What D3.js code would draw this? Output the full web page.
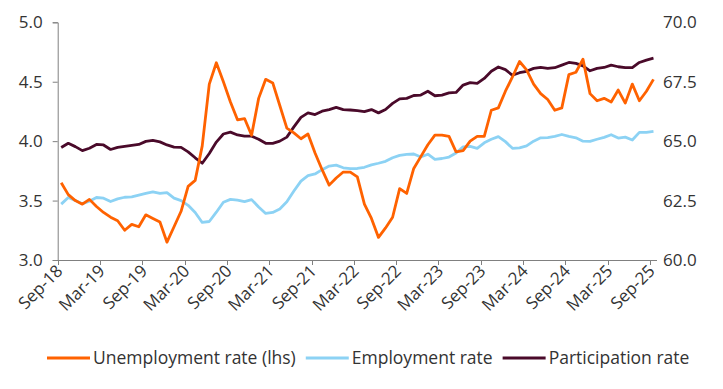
<!DOCTYPE html>
<html>
<head>
<meta charset="utf-8">
<script src="https://cdn.jsdelivr.net/npm/d3@7"></script>
<style>
  body { margin: 0; background: #fff; }
  svg { display: block; font-family: "Open Sans", "DejaVu Sans", sans-serif; }
</style>
</head>
<body>
<script>
let w = 723;
let h = 389;
let plotLeft = 57.7;
let plotRight = 657;
let plotTop = 22.3;
let plotBottom = 260;

// monthly, Sep-18 .. Sep-25
const months = d3.timeMonth.range(new Date(2018, 8, 1), new Date(2025, 9, 1));
const fmt = d3.timeFormat("%b-%y");

const unemployment = [
  3.65, 3.55, 3.50, 3.47, 3.51, 3.45, 3.40, 3.36, 3.33, 3.25, 3.30, 3.28, 3.38, 3.35, 3.32, 3.15, 3.28,
  3.41, 3.62, 3.67, 3.96, 4.48, 4.66, 4.50, 4.33, 4.18, 4.19, 4.05, 4.36, 4.52, 4.49, 4.30, 4.11, 4.07,
  4.02, 4.06, 3.90, 3.76, 3.63, 3.69, 3.74, 3.74, 3.70, 3.47, 3.35, 3.19, 3.27, 3.36, 3.60, 3.56, 3.77,
  3.87, 3.97, 4.05, 4.05, 4.04, 3.91, 3.92, 4.00, 4.04, 4.04, 4.26, 4.28, 4.42, 4.54, 4.67, 4.60, 4.48,
  4.40, 4.35, 4.26, 4.28, 4.56, 4.58, 4.69, 4.40, 4.34, 4.36, 4.33, 4.43, 4.32, 4.48, 4.34, 4.42, 4.52
];
const employment = [
  62.35, 62.63, 62.50, 62.37, 62.47, 62.63, 62.60, 62.46, 62.57, 62.64, 62.66, 62.73, 62.80, 62.87, 62.80, 62.83, 62.60,
  62.50, 62.30, 62.00, 61.58, 61.62, 62.01, 62.43, 62.55, 62.52, 62.46, 62.54, 62.23, 61.96, 62.00, 62.15, 62.45, 62.90,
  63.32, 63.55, 63.62, 63.80, 63.95, 63.99, 63.88, 63.84, 63.85, 63.90, 64.00, 64.07, 64.15, 64.30, 64.40, 64.44, 64.46,
  64.33, 64.45, 64.23, 64.27, 64.33, 64.50, 64.76, 64.78, 64.70, 64.93, 65.08, 65.19, 64.98, 64.70, 64.72, 64.80, 65.00,
  65.14, 65.15, 65.20, 65.28, 65.20, 65.14, 65.00, 64.99, 65.08, 65.16, 65.27, 65.13, 65.17, 65.05, 65.37, 65.37, 65.41
];
const participation = [
  64.73, 64.91, 64.77, 64.60, 64.70, 64.86, 64.84, 64.65, 64.74, 64.78, 64.82, 64.86, 64.99, 65.03, 64.97, 64.84, 64.75,
  64.74, 64.55, 64.30, 64.07, 64.48, 64.96, 65.30, 65.38, 65.26, 65.21, 65.21, 65.08, 64.91, 64.91, 65.00, 65.17, 65.60,
  66.00, 66.19, 66.12, 66.26, 66.33, 66.42, 66.33, 66.31, 66.28, 66.24, 66.33, 66.19, 66.33, 66.59, 66.78, 66.80, 66.92,
  66.94, 67.10, 66.91, 66.94, 67.03, 67.05, 67.36, 67.46, 67.43, 67.64, 67.94, 68.12, 68.01, 67.77, 67.88, 67.94, 68.06,
  68.10, 68.06, 68.09, 68.20, 68.31, 68.27, 68.17, 67.96, 68.06, 68.10, 68.20, 68.13, 68.09, 68.09, 68.31, 68.41, 68.49
];

const tickLabels = ["Sep-18", "Mar-19", "Sep-19", "Mar-20", "Sep-20", "Mar-21", "Sep-21", "Mar-22",
  "Sep-22", "Mar-23", "Sep-23", "Mar-24", "Sep-24", "Mar-25", "Sep-25"];
const leftTicks = [3.0, 3.5, 4.0, 4.5, 5.0];
const rightTicks = [60.0, 62.5, 65.0, 67.5, 70.0];

const seriesNames = ["Unemployment rate (lhs)", "Employment rate", "Participation rate"];
const colors = ["#ff6200", "#8cd2f4", "#4a0a2a"];

const axisColor = "#808080";
const textColor = "#333";
const tickFont = "17px";
const legendFont = "17.5px";

let svg = d3.select("body").append("svg").attr("width", w).attr("height", h);

let xScale = d3.scaleBand()
  .domain(months.map(fmt))
  .range([plotLeft, plotRight])
  .paddingInner(0)
  .paddingOuter(0);
let bw = xScale.bandwidth();

let yLeft = d3.scaleLinear().domain([3, 5]).range([plotBottom, plotTop]);
let yRight = d3.scaleLinear().domain([60, 70]).range([plotBottom, plotTop]);

// left axis
const yAxisL = d3.axisLeft(yLeft).tickValues(leftTicks).tickFormat(d3.format(".1f")).tickSize(5).tickPadding(10);
let gl = svg.append("g")
  .attr("transform", "translate(" + plotLeft + ",0)")
  .call(yAxisL);
gl.select(".domain").attr("stroke", axisColor);
gl.selectAll(".tick line").attr("stroke", axisColor);
gl.selectAll(".tick text").attr("fill", textColor).style("font-size", tickFont)
  .style("font-family", "'Open Sans', sans-serif");

// right axis: labels only
const yAxisR = d3.axisRight(yRight).tickValues(rightTicks).tickFormat(d3.format(".1f")).tickSize(0).tickPadding(6);
let gr = svg.append("g")
  .attr("transform", "translate(" + plotRight + ",0)")
  .call(yAxisR);
gr.select(".domain").remove();
gr.selectAll(".tick text").attr("fill", textColor).style("font-size", tickFont)
  .style("font-family", "'Open Sans', sans-serif");

// bottom axis
let gx = svg.append("g").attr("transform", "translate(0," + plotBottom + ")");
gx.append("line")
  .attr("x1", plotLeft).attr("x2", plotRight)
  .attr("y1", 0.5).attr("y2", 0.5)
  .attr("stroke", axisColor);
gx.selectAll("line.tick")
  .data(tickLabels)
  .enter()
  .append("line")
  .attr("class", "tick")
  .attr("x1", (d) => Math.round(xScale(d)) + 0.5)
  .attr("x2", (d) => Math.round(xScale(d)) + 0.5)
  .attr("y1", 0)
  .attr("y2", 5)
  .attr("stroke", axisColor);
gx.selectAll("text.tick")
  .data(tickLabels)
  .enter()
  .append("text")
  .attr("class", "tick")
  .attr("text-anchor", "end")
  .attr("font-size", tickFont)
  .attr("fill", textColor)
  .attr("transform", (d) => "translate(" + (xScale(d) + 6) + ",12) rotate(-45)")
  .text((d) => d);

// lines
const series = [
  { name: seriesNames[0], values: unemployment, y: yLeft, color: colors[0] },
  { name: seriesNames[1], values: employment, y: yRight, color: colors[1] },
  { name: seriesNames[2], values: participation, y: yRight, color: colors[2] }
];
const drawOrder = [1, 2, 0];

drawOrder.forEach((k) => {
  const s = series[k];
  const line = d3.line()
    .x((d, i) => xScale(fmt(months[i])) + bw / 2)
    .y((d) => s.y(d));
  svg.append("path")
    .datum(s.values)
    .attr("fill", "none")
    .attr("stroke", s.color)
    .attr("stroke-width", 2.8)
    .attr("stroke-linejoin", "round")
    .attr("d", line);
});

// legend
let lg = svg.append("g").attr("transform", "translate(47,358)");
let lx = 0;
series.forEach((s) => {
  lg.append("line")
    .attr("x1", lx).attr("x2", lx + 43)
    .attr("y1", 0).attr("y2", 0)
    .attr("stroke", s.color)
    .attr("stroke-width", 3);
  let t = lg.append("text")
    .attr("x", lx + 46)
    .attr("y", 6.3)
    .attr("font-size", legendFont)
    .attr("fill", textColor)
    .text(s.name);
  lx += 46 + t.node().getComputedTextLength() + 10;
});
</script>
</body>
</html>
